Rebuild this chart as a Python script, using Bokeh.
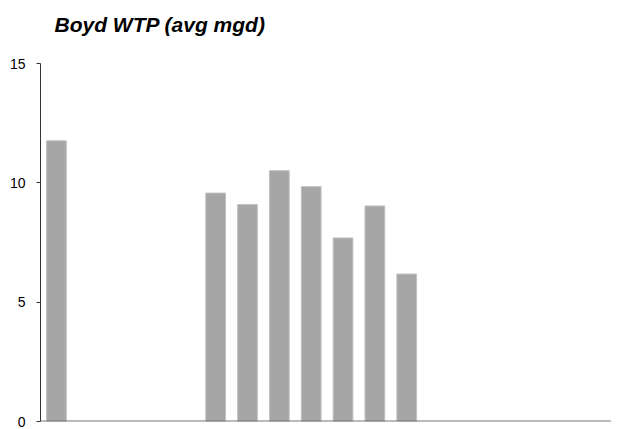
import math
from bokeh.plotting import figure
from bokeh.models import ColumnDataSource, FixedTicker, Range1d, Span
from bokeh.embed import file_html
from bokeh.resources import INLINE

title_text = "Boyd WTP (avg mgd)"
slots = list(range(18))
values = [11.76, None, None, None, None, 9.57, 9.09, 10.51, 9.84, 7.69, 9.03, 6.18,
          None, None, None, None, None, None]
y_ticks = [0, 5, 10, 15]

xs = [s for s, v in zip(slots, values) if v is not None]
ys = [v for v in values if v is not None]
src = ColumnDataSource(dict(x=xs, top=ys))

p = figure(width=611, height=428, output_backend="svg", toolbar_location=None,
           x_axis_type=None, x_range=Range1d(-0.5, 17.43), y_range=Range1d(0, 15),
           min_border_left=40, min_border_right=0, min_border_top=63, min_border_bottom=7)
p.outline_line_color = None
p.grid.visible = False
p.background_fill_color = "white"
p.border_fill_color = "white"

p.vbar(x="x", top="top", width=0.62, bottom=0, source=src,
       fill_color="#a6a6a6", line_color="#c0c0c0", line_width=1)

p.add_layout(Span(location=0, dimension="width", line_color="#777777", line_width=2))

ax = p.yaxis[0]
ax.ticker = FixedTicker(ticks=y_ticks)
ax.minor_tick_line_color = None
ax.major_tick_in = 0
ax.major_tick_out = 4
ax.major_tick_line_color = "#333333"
ax.axis_line_color = "#333333"
ax.major_label_text_font = "Liberation Sans"
ax.major_label_text_font_size = "14px"
ax.major_label_text_color = "#000000"
ax.major_label_standoff = 11

p.title.text = title_text + "\n "
p.title.text_font = "Liberation Sans"
p.title.text_font_style = "bold italic"
p.title.text_font_size = "21px"
p.title.text_color = "#000000"
p.title.align = "left"
p.title.offset = 14
p.title.standoff = 10

open("out.html", "w").write(file_html(p, INLINE))
